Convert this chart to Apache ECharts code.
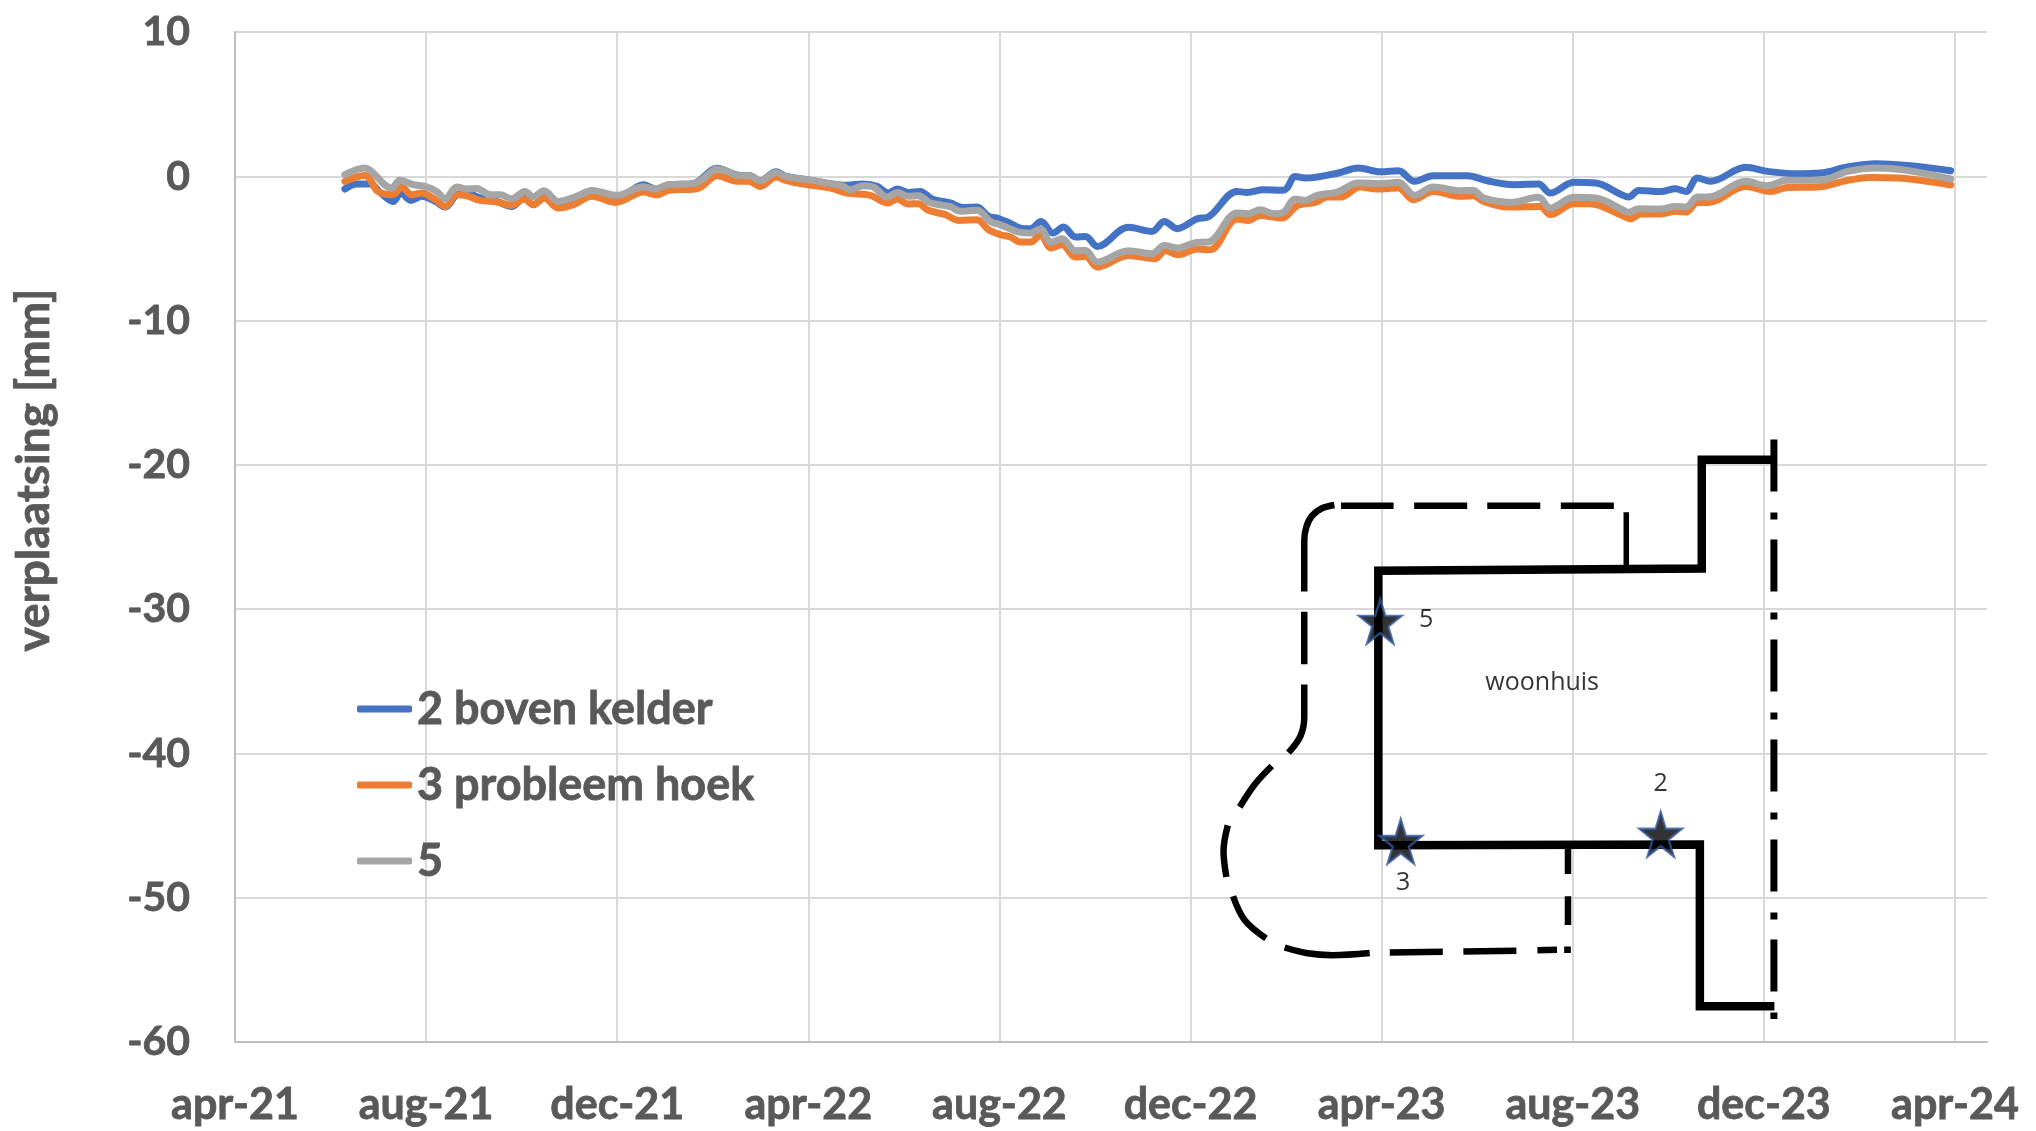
<!DOCTYPE html>
<html>
<head>
<meta charset="utf-8">
<style>html,body{margin:0;padding:0;background:#fff}#c{width:2036px;height:1131px}</style>
<script src="https://cdn.jsdelivr.net/npm/echarts@6/dist/echarts.min.js"></script>
</head>
<body>
<div id="c"></div>
<script>
// X values are months since apr-21 (the source axis spaces its 4-month ticks evenly).
const xTickLabels = ['apr-21','aug-21','dec-21','apr-22','aug-22','dec-22','apr-23','aug-23','dec-23','apr-24'];
const seriesNames = ['2 boven kelder','3 probleem hoek','5'];

const series2 = [[2.30,-0.88],[2.55,-0.53],[2.83,-0.53],[3.04,-1.12],[3.31,-1.74],[3.47,-1.16],[3.68,-1.67],[3.91,-1.39],[4.19,-1.74],[4.40,-2.13],[4.64,-1.28],[4.85,-1.16],[5.13,-1.50],[5.48,-1.74],[5.79,-2.09],[6.05,-1.50],[6.24,-1.97],[6.47,-1.46],[6.77,-2.09],[7.08,-1.81],[7.47,-1.16],[7.96,-1.62],[8.55,-0.58],[8.83,-0.93],[9.07,-0.58],[9.59,-0.51],[10.09,0.56],[10.30,0.34],[10.53,0.08],[10.78,0.04],[10.99,-0.31],[11.33,0.32],[11.52,0.01],[11.97,-0.24],[12.46,-0.51],[12.81,-0.62],[13.15,-0.53],[13.44,-0.70],[13.67,-1.16],[13.86,-0.88],[14.09,-1.12],[14.34,-1.05],[14.59,-1.57],[14.97,-1.85],[15.24,-2.16],[15.53,-2.13],[15.77,-2.78],[15.95,-2.89],[16.19,-3.20],[16.44,-3.59],[16.65,-3.63],[16.87,-3.13],[17.12,-3.93],[17.34,-3.52],[17.59,-4.21],[17.80,-4.17],[18.05,-4.86],[18.70,-3.54],[19.19,-3.82],[19.45,-3.13],[19.72,-3.63],[20.14,-2.94],[20.37,-2.82],[20.97,-1.05],[21.18,-1.12],[21.52,-0.93],[21.94,-0.96],[22.02,-0.81],[22.19,-0.01],[22.40,-0.12],[23.09,0.23],[23.51,0.58],[23.97,0.32],[24.35,0.39],[24.69,-0.35],[25.08,0.04],[25.79,0.04],[26.21,-0.31],[26.76,-0.58],[27.28,-0.53],[27.53,-1.16],[28.02,-0.42],[28.48,-0.46],[29.00,-1.24],[29.17,-1.44],[29.38,-0.98],[29.84,-1.05],[30.15,-0.86],[30.37,-1.05],[30.61,-0.12],[30.88,-0.35],[31.62,0.62],[32.07,0.34],[32.70,0.18],[33.19,0.23],[33.75,0.64],[34.34,0.87],[35.00,0.74],[35.91,0.39]];

const series3 = [[2.30,-0.35],[2.72,0.06],[2.83,-0.24],[2.99,-1.05],[3.31,-1.28],[3.49,-0.74],[3.70,-1.28],[3.91,-1.16],[4.19,-1.62],[4.40,-2.09],[4.64,-1.28],[4.85,-1.35],[5.13,-1.67],[5.48,-1.78],[5.79,-2.02],[6.05,-1.57],[6.25,-1.97],[6.47,-1.50],[6.77,-2.20],[7.08,-1.97],[7.47,-1.39],[7.96,-1.81],[8.55,-1.09],[8.83,-1.28],[9.07,-0.98],[9.63,-0.88],[9.77,-0.70],[10.09,0.04],[10.53,-0.35],[10.76,-0.35],[10.99,-0.70],[11.33,-0.05],[11.52,-0.28],[11.97,-0.58],[12.46,-0.81],[12.81,-1.16],[13.30,-1.32],[13.67,-1.85],[13.86,-1.57],[14.09,-1.92],[14.30,-1.90],[14.51,-2.36],[14.87,-2.66],[15.14,-3.06],[15.53,-3.01],[15.77,-3.70],[16.02,-4.05],[16.23,-4.21],[16.44,-4.56],[16.65,-4.56],[16.86,-4.05],[17.08,-4.97],[17.31,-4.74],[17.59,-5.60],[17.80,-5.55],[18.05,-6.29],[18.70,-5.49],[19.26,-5.71],[19.47,-5.14],[19.74,-5.44],[20.14,-5.04],[20.41,-5.09],[20.97,-2.96],[21.21,-3.06],[21.46,-2.71],[21.92,-2.89],[22.23,-2.04],[22.61,-1.81],[22.86,-1.44],[23.14,-1.44],[23.55,-0.74],[23.90,-0.88],[24.35,-0.81],[24.66,-1.62],[25.08,-1.05],[25.65,-1.39],[25.92,-1.35],[26.13,-1.74],[26.63,-2.13],[27.32,-2.09],[27.53,-2.66],[28.02,-1.90],[28.37,-1.90],[29.00,-2.66],[29.21,-2.94],[29.42,-2.61],[29.84,-2.61],[30.15,-2.43],[30.37,-2.48],[30.61,-1.81],[30.84,-1.81],[31.62,-0.70],[32.14,-1.05],[32.49,-0.77],[33.12,-0.74],[33.75,-0.28],[34.23,-0.08],[34.79,-0.12],[35.91,-0.60]];

const series5 = [[2.30,0.11],[2.72,0.58],[2.83,0.41],[3.28,-0.81],[3.45,-0.28],[3.73,-0.58],[3.98,-0.70],[4.22,-1.05],[4.40,-1.55],[4.64,-0.74],[4.85,-0.88],[5.06,-0.84],[5.34,-1.28],[5.55,-1.28],[5.79,-1.55],[6.07,-1.05],[6.24,-1.41],[6.47,-1.00],[6.76,-1.74],[7.15,-1.39],[7.47,-0.98],[7.99,-1.32],[8.54,-0.72],[8.79,-0.88],[9.07,-0.58],[9.59,-0.51],[9.77,-0.24],[10.09,0.51],[10.30,0.34],[10.54,0.04],[10.78,0.04],[10.99,-0.31],[11.33,0.27],[11.52,-0.01],[11.97,-0.24],[12.21,-0.35],[12.46,-0.53],[12.70,-0.65],[12.89,-0.93],[13.15,-0.65],[13.36,-0.74],[13.65,-1.44],[13.86,-1.12],[14.09,-1.39],[14.30,-1.35],[14.55,-1.83],[14.97,-2.11],[15.18,-2.43],[15.53,-2.36],[15.81,-3.13],[16.02,-3.36],[16.44,-3.89],[16.65,-3.93],[16.86,-3.65],[17.08,-4.58],[17.31,-4.33],[17.59,-5.16],[17.80,-5.14],[18.05,-5.94],[18.70,-5.16],[19.19,-5.37],[19.45,-4.79],[19.72,-4.97],[20.14,-4.58],[20.37,-4.56],[20.97,-2.55],[21.21,-2.59],[21.46,-2.32],[21.73,-2.59],[21.94,-2.50],[22.19,-1.57],[22.40,-1.67],[22.65,-1.32],[23.07,-1.09],[23.51,-0.46],[23.97,-0.51],[24.35,-0.42],[24.69,-1.32],[25.08,-0.74],[25.65,-1.00],[25.92,-0.98],[26.13,-1.50],[26.70,-1.81],[27.28,-1.46],[27.53,-2.20],[28.02,-1.46],[28.48,-1.50],[29.00,-2.25],[29.17,-2.50],[29.38,-2.25],[29.84,-2.27],[30.15,-2.09],[30.37,-2.13],[30.61,-1.44],[30.84,-1.44],[31.62,-0.35],[32.07,-0.65],[32.49,-0.28],[33.19,-0.28],[33.75,0.34],[34.34,0.58],[35.00,0.41],[35.91,-0.19]];

// Floor-plan inset, expressed in the chart's own axis units.
const planWall = [[32.22,-19.65],[30.70,-19.65],[30.70,-27.18],[23.93,-27.34],[23.93,-46.37],[30.66,-46.32],[30.66,-57.52],[32.22,-57.52]];
const planBoundary = [[32.21,-18.24],[32.21,-58.4]];
const planTerrainDashes = [
  [[28.86,-22.83],[27.75,-22.83]],
  [[27.32,-22.83],[26.21,-22.83]],
  [[25.79,-22.83],[24.68,-22.83]],
  [[24.25,-22.83],[23.15,-22.83]],
  [[23.01,-22.78],[22.75,-23.01],[22.54,-23.54],[22.42,-24.34],[22.38,-25.27],[22.38,-28.77]],
  [[22.38,-30.18],[22.38,-33.82]],
  [[22.38,-35.22],[22.38,-37.48],[22.30,-38.80],[22.05,-39.95]],
  [[21.70,-40.87],[21.35,-42.12],[21.03,-43.71]],
  [[20.78,-44.99],[20.69,-46.77],[20.75,-48.57]],
  [[20.89,-49.90],[21.13,-51.54],[21.58,-52.82]],
  [[21.97,-53.45],[22.45,-53.85],[22.97,-53.98],[23.75,-53.83]],
  [[24.17,-53.80],[25.28,-53.75]],
  [[25.71,-53.72],[26.82,-53.67]],
  [[27.26,-53.64],[27.67,-53.61]],
  [[27.82,-53.60],[27.96,-53.60]],
  [[27.90,-46.63],[27.90,-48.36]],
  [[27.90,-49.90],[27.90,-51.89]]
];
const planStub = [[29.12,-23.28],[29.12,-26.99]];
const planStars = [[23.97,-30.84],[24.40,-46.1],[29.84,-45.6]];
const planLabels = [[24.93,-30.76,'5'],[24.45,-48.97,'3'],[29.84,-42.12,'2'],[27.36,-35.14,'woonhuis']];

const FONT = 'Lato';
const TXT = '#595959';
const heavy = { fontFamily: FONT, fontWeight: 'bold', color: TXT, textBorderColor: TXT, textBorderWidth: 0.8 };
const star = 'path://M50,0 L62,36 L100,36 L69,59 L81,95 L50,73 L19,95 L31,59 L0,36 L38,36 Z';
const brokenPath = segs => segs.flatMap((s, i) => i ? [[NaN, NaN], ...s] : s);

const dataSeries = (name, data, color) => ({
  name, type: 'line', data, showSymbol: false, symbol: 'none', smooth: 0.35, color,
  lineStyle: { color, width: 7, cap: 'round', join: 'round' }, itemStyle: { color }, z: 3
});
const planLine = (data, width, extra, smooth) => ({
  type: 'line', data, showSymbol: false, symbol: 'none', silent: true, z: 4, smooth: smooth || false,
  lineStyle: Object.assign({ color: '#000', width, cap: 'butt', join: 'miter' }, extra)
});

const chart = echarts.init(document.getElementById('c'), null, { renderer: 'canvas' });
chart.setOption({
  animation: false,
  backgroundColor: '#fff',
  textStyle: { fontFamily: FONT },
  grid: { left: 235, right: 49, top: 32, bottom: 89, containLabel: false },
  legend: {
    data: seriesNames, orient: 'vertical', left: 352, top: 680, itemWidth: 55, itemHeight: 7,
    icon: 'roundRect', itemGap: 28,
    textStyle: Object.assign({}, heavy, { fontSize: 45, lineHeight: 48 })
  },
  xAxis: {
    type: 'value', min: 0, max: 36.67, interval: 4,
    axisLine: { onZero: false, lineStyle: { color: '#BFBFBF', width: 2 } }, axisTick: { show: false },
    axisLabel: Object.assign({}, heavy, {
      margin: 42, showMaxLabel: false, hideOverlap: false, fontSize: 43,
      formatter: v => (v % 4 === 0 ? xTickLabels[v / 4] : '')
    }),
    splitLine: { show: true, showMinLine: false, showMaxLine: false, lineStyle: { color: '#D9D9D9', width: 2 } }
  },
  yAxis: {
    type: 'value', min: -60, max: 10, interval: 10,
    name: 'verplaatsing [mm]', nameLocation: 'middle', nameRotate: 90, nameGap: 178,
    nameTextStyle: Object.assign({}, heavy, { fontSize: 46, padding: [0, 0, 0, 134] }),
    axisLine: { show: true, lineStyle: { color: '#BFBFBF', width: 2 } }, axisTick: { show: false },
    axisLabel: Object.assign({}, heavy, { margin: 45, fontSize: 41 }),
    splitLine: { show: true, showMinLine: false, lineStyle: { color: '#D9D9D9', width: 2 } }
  },
  series: [
    dataSeries(seriesNames[0], series2, '#4472C4'),
    dataSeries(seriesNames[1], series3, '#ED7D31'),
    dataSeries(seriesNames[2], series5, '#A5A5A5'),
    planLine(planWall, 8.5),
    planLine(planBoundary, 7, { type: [52, 21, 7, 20] }),
    planLine(brokenPath(planTerrainDashes), 6.5, null, 0.35),
    planLine(planStub, 5.5),
    {
      type: 'scatter', data: planStars, symbol: star, symbolSize: [42, 44], silent: true, z: 5,
      itemStyle: { color: '#000', borderColor: '#2F5597', borderWidth: 2.5 }
    },
    {
      type: 'scatter', data: planLabels, symbolSize: 1, silent: true, z: 6,
      itemStyle: { color: 'transparent' },
      label: { show: true, position: 'inside', formatter: p => p.data[2], fontFamily: 'Open Sans', fontSize: 25, color: '#000' }
    }
  ]
});
</script>
</body>
</html>
